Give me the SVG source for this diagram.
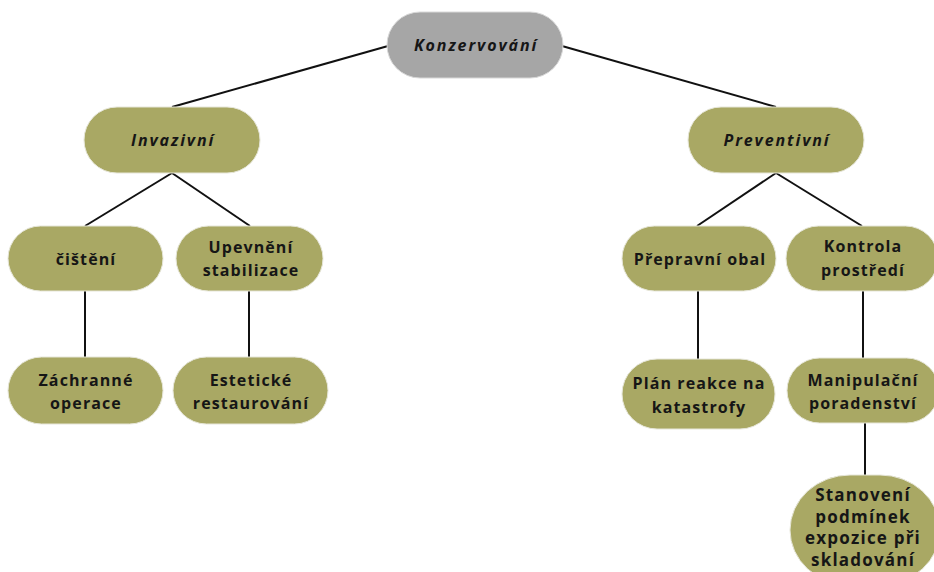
<svg xmlns="http://www.w3.org/2000/svg" width="934" height="572" viewBox="0 0 934 572">
<style>
.n{fill:#a9a864;stroke:#e6e6d8;stroke-width:1}
.g{fill:#a6a6a6;stroke:#d8d8d8;stroke-width:1}
text{font-family:"Open Sans","Noto Sans",sans-serif;font-weight:700;font-size:16px;fill:#161616;text-anchor:middle;letter-spacing:1.1px}
.i{font-style:italic;letter-spacing:1.9px}
.s{font-size:17px;letter-spacing:1.2px}
.c line{stroke:#111;stroke-width:2}
</style>
<rect width="934" height="572" fill="#fff"/>
<g class="c" id="connectors">
<line x1="388" y1="46" x2="172" y2="107"/>
<line x1="562" y1="46" x2="776" y2="107"/>
<line x1="172" y1="173" x2="85" y2="226"/>
<line x1="172" y1="173" x2="250" y2="226"/>
<line x1="85" y1="291" x2="85" y2="357"/>
<line x1="249" y1="291" x2="249" y2="357"/>
<line x1="776" y1="173" x2="697" y2="226"/>
<line x1="776" y1="173" x2="862" y2="226"/>
<line x1="698" y1="291" x2="698" y2="359"/>
<line x1="863" y1="291" x2="863" y2="358"/>
<line x1="865" y1="423" x2="865" y2="476"/>
</g>
<g id="konzervovani"><rect class="g" x="387" y="12" width="176" height="66" rx="33"/><text class="i" x="476" y="51">Konzervování</text></g>
<g id="invazivni"><rect class="n" x="84" y="107" width="176" height="66" rx="33"/><text class="i" x="173" y="146">Invazivní</text></g>
<g id="preventivni"><rect class="n" x="688" y="107" width="176" height="66" rx="33"/><text class="i" x="777" y="146">Preventivní</text></g>
<g id="cisteni"><rect class="n" x="8" y="226" width="155" height="65" rx="32.5"/><text x="86" y="265">čištění</text></g>
<g id="upevneni"><rect class="n" x="176" y="226" width="147" height="65" rx="32.5"/><text x="251" y="253">Upevnění</text><text x="251" y="276">stabilizace</text></g>
<g id="zachranne"><rect class="n" x="8" y="357" width="155" height="67" rx="33.5"/><text x="86" y="386">Záchranné</text><text x="86" y="409">operace</text></g>
<g id="esteticke"><rect class="n" x="173" y="357" width="155" height="67" rx="33.5"/><text x="251" y="386">Estetické</text><text x="251" y="409">restaurování</text></g>
<g id="prepravni"><rect class="n" x="622" y="226" width="154" height="65" rx="32.5"/><text x="700" y="265">Přepravní obal</text></g>
<g id="kontrola"><rect class="n" x="786" y="226" width="152" height="65" rx="32.5"/><text x="863" y="252">Kontrola</text><text x="863" y="276">prostředí</text></g>
<g id="plan"><rect class="n" x="622" y="359" width="153" height="70" rx="35"/><text x="699" y="389">Plán reakce na</text><text x="699" y="413">katastrofy</text></g>
<g id="manipulacni"><rect class="n" x="787" y="358" width="152" height="65" rx="32.5"/><text x="863" y="386">Manipulační</text><text x="863" y="409">poradenství</text></g>
<g id="stanoveni"><rect class="n" x="790" y="475" width="150" height="110" rx="60"/><text class="s" x="863" y="501">Stanovení</text><text class="s" x="863" y="523">podmínek</text><text class="s" x="863" y="544">expozice při</text><text class="s" x="863" y="566">skladování</text></g>
</svg>
